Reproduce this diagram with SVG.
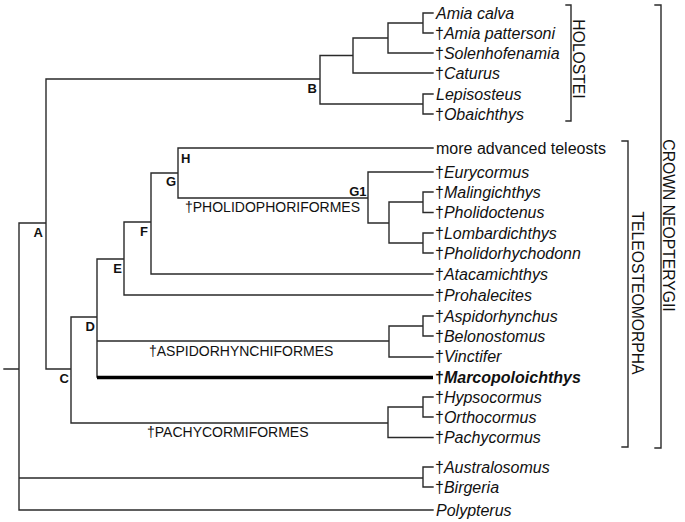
<svg xmlns="http://www.w3.org/2000/svg" width="685" height="522" viewBox="0 0 685 522">
<style>
.ln{fill:none;stroke:#2a2a2a;stroke-width:1.4;stroke-linecap:square}
.bold{fill:none;stroke:#000;stroke-width:3.4}
.tx{font-family:"Liberation Sans",Arial,sans-serif;font-size:16px;fill:#111}
.it{font-style:italic}
.nl{font-family:"Liberation Sans",Arial,sans-serif;font-size:13px;font-weight:bold;fill:#111}
.cl{font-family:"Liberation Sans",Arial,sans-serif;font-size:14px;fill:#111}
.br{font-family:"Liberation Sans",Arial,sans-serif;font-size:15.7px;fill:#111}
</style>
<rect width="685" height="522" fill="#fff"/>
<g id="connectors">
<path class="ln" d="M4,369H19M19,223V510M19,223H46M19,478H423M423,467V487M423,467H433M423,487H433M19,510H433
M46,79V369M46,79H320M320,55.5V104M320,55.5H353M353,38V73M353,73H433M353,38H388M388,23V53M388,53H433M388,23H423M423,13V33M423,13H433M423,33H433
M320,104H423M423,94V114M423,94H433M423,114H433
M46,369H71M71,317V423M71,317H97M97,259V377
M71,423H388M388,407V437.5M388,437.5H433M388,407H423M423,397V417M423,397H433M423,417H433
M97,259H124M124,222V295M124,295H433
M97,341H389M389,326V357M389,357H433M389,326H423M423,316V336M423,316H433M423,336H433
M124,222H151M151,173V274M151,274H433
M151,173H178M178,148V198M178,148H433M178,198H368
M368,172V223M368,172H433M368,223H389M389,202V243M389,202H423M423,192V212.5M423,192H433M423,212.5H433M389,243H423M423,233V253M423,233H433M423,253H433"/>
<path class="bold" d="M97,377.5H433"/>
</g>
<g id="node-labels">
<g id="node-A"><text class="nl" x="43" y="237" text-anchor="end">A</text></g>
<g id="node-B"><text class="nl" x="317" y="92.5" text-anchor="end">B</text></g>
<g id="node-C"><text class="nl" x="69" y="382.5" text-anchor="end">C</text></g>
<g id="node-D"><text class="nl" x="95" y="330.5" text-anchor="end">D</text></g>
<g id="node-E"><text class="nl" x="122" y="272.5" text-anchor="end">E</text></g>
<g id="node-F"><text class="nl" x="148" y="236" text-anchor="end">F</text></g>
<g id="node-G"><text class="nl" x="176" y="186" text-anchor="end">G</text></g>
<g id="node-H"><text class="nl" x="181" y="162.5">H</text></g>
<g id="node-G1"><text class="nl" x="366.5" y="196" text-anchor="end">G1</text></g>
</g>
<g id="clade-labels">
<g id="pholidophoriformes"><text class="cl" x="185" y="211.5">†PHOLIDOPHORIFORMES</text></g>
<g id="aspidorhynchiformes"><text class="cl" x="149" y="355.5">†ASPIDORHYNCHIFORMES</text></g>
<g id="pachycormiformes"><text class="cl" x="147" y="437">†PACHYCORMIFORMES</text></g>
</g>
<g id="taxa">
<g id="t-amia-calva"><text class="tx it" x="436" y="18.5">Amia calva</text></g>
<g id="t-amia-pattersoni"><text class="tx" x="435" y="38.5">†<tspan class="it">Amia pattersoni</tspan></text></g>
<g id="t-solenhofenamia"><text class="tx" x="435" y="58.5">†<tspan class="it">Solenhofenamia</tspan></text></g>
<g id="t-caturus"><text class="tx" x="435" y="78.5">†<tspan class="it">Caturus</tspan></text></g>
<g id="t-lepisosteus"><text class="tx it" x="436" y="99.5">Lepisosteus</text></g>
<g id="t-obaichthys"><text class="tx" x="435" y="119.5">†<tspan class="it">Obaichthys</tspan></text></g>
<g id="t-teleosts"><text class="tx" x="436" y="153.5">more advanced teleosts</text></g>
<g id="t-eurycormus"><text class="tx" x="435" y="177.5">†<tspan class="it">Eurycormus</tspan></text></g>
<g id="t-malingichthys"><text class="tx" x="435" y="197.5">†<tspan class="it">Malingichthys</tspan></text></g>
<g id="t-pholidoctenus"><text class="tx" x="435" y="218">†<tspan class="it">Pholidoctenus</tspan></text></g>
<g id="t-lombardichthys"><text class="tx" x="435" y="238.5">†<tspan class="it">Lombardichthys</tspan></text></g>
<g id="t-pholidorhychodonn"><text class="tx" x="435" y="258.5">†<tspan class="it">Pholidorhychodonn</tspan></text></g>
<g id="t-atacamichthys"><text class="tx" x="435" y="279.5">†<tspan class="it">Atacamichthys</tspan></text></g>
<g id="t-prohalecites"><text class="tx" x="435" y="300.5">†<tspan class="it">Prohalecites</tspan></text></g>
<g id="t-aspidorhynchus"><text class="tx" x="435" y="321.5">†<tspan class="it">Aspidorhynchus</tspan></text></g>
<g id="t-belonostomus"><text class="tx" x="435" y="341.5">†<tspan class="it">Belonostomus</tspan></text></g>
<g id="t-vinctifer"><text class="tx" x="435" y="362">†<tspan class="it">Vinctifer</tspan></text></g>
<g id="t-marcopoloichthys"><text class="tx" x="435" y="383" font-weight="bold">†<tspan class="it">Marcopoloichthys</tspan></text></g>
<g id="t-hypsocormus"><text class="tx" x="435" y="402.5">†<tspan class="it">Hypsocormus</tspan></text></g>
<g id="t-orthocormus"><text class="tx" x="435" y="422.5">†<tspan class="it">Orthocormus</tspan></text></g>
<g id="t-pachycormus"><text class="tx" x="435" y="443">†<tspan class="it">Pachycormus</tspan></text></g>
<g id="t-australosomus"><text class="tx" x="435" y="472.5">†<tspan class="it">Australosomus</tspan></text></g>
<g id="t-birgeria"><text class="tx" x="435" y="492.5">†<tspan class="it">Birgeria</tspan></text></g>
<g id="t-polypterus"><text class="tx it" x="436" y="515.5">Polypterus</text></g>
</g>
<g id="brackets">
<g id="holostei"><path class="ln" d="M566,5H571V121H566"/><text class="br" transform="translate(579,59) rotate(90)" y="5.6" text-anchor="middle">HOLOSTEI</text></g>
<g id="teleosteomorpha"><path class="ln" d="M622,141H628V447H622"/><text class="br" transform="translate(638,293) rotate(90)" y="5.6" text-anchor="middle">TELEOSTEOMORPHA</text></g>
<g id="crown-neopterygii"><path class="ln" d="M655,5H661V448H655"/><text class="br" transform="translate(669,225.5) rotate(90)" y="5.6" text-anchor="middle">CROWN NEOPTERYGII</text></g>
</g>
</svg>
